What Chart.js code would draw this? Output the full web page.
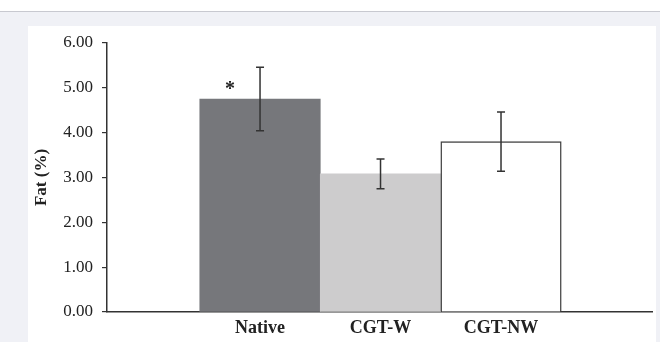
<!DOCTYPE html>
<html>
<head>
<meta charset="utf-8">
<script src="https://cdn.jsdelivr.net/npm/chart.js@4/dist/chart.umd.min.js"></script>
<style>
  html, body { margin:0; padding:0; width:660px; height:342px; overflow:hidden; background:#f0f1f6; }
  #topwhite { position:absolute; left:0; top:0; width:660px; height:11px; background:#ffffff; }
  #topline { position:absolute; left:0; top:11px; width:660px; height:1px; background:#c8c9d0; }
  #panel { position:absolute; left:28px; top:26px; width:628px; height:316px; background:#ffffff; }
  #c { position:absolute; left:0; top:0; }
</style>
</head>
<body>
<div id="topwhite"></div>
<div id="topline"></div>
<div id="panel"></div>
<canvas id="c" width="660" height="342"></canvas>
<script>
const categories = ['Native', 'CGT-W', 'CGT-NW'];
const fatMeans = [4.75, 3.08, 3.80];
const fatErrors = [0.71, 0.33, 0.66];
const yTicks = [0, 1, 2, 3, 4, 5, 6];
const significance = ['*', '', ''];

const barColors = ['#76777b', '#cdcccd', '#ffffff'];
const barBorders = [0, 0, 1.5];

const errorBarPlugin = {
  id: 'errorBars',
  afterDatasetsDraw(chart) {
    const ctx = chart.ctx;
    const xs = chart.scales.x, ys = chart.scales.y;
    ctx.save();
    ctx.strokeStyle = '#333333';
    ctx.lineWidth = 1.5;
    categories.forEach((c, i) => {
      const x = xs.getPixelForValue(i);
      const yTop = ys.getPixelForValue(fatMeans[i] + fatErrors[i]);
      const yBot = ys.getPixelForValue(fatMeans[i] - fatErrors[i]);
      const cap = 4;
      ctx.beginPath();
      ctx.moveTo(x, yTop); ctx.lineTo(x, yBot);
      ctx.moveTo(x - cap, yTop); ctx.lineTo(x + cap, yTop);
      ctx.moveTo(x - cap, yBot); ctx.lineTo(x + cap, yBot);
      ctx.stroke();
      if (significance[i]) {
        ctx.fillStyle = '#222';
        ctx.font = 'bold 20px "Liberation Serif"';
        ctx.textAlign = 'center';
        ctx.textBaseline = 'middle';
        ctx.fillText(significance[i], xs.getPixelForValue(i - 0.25), ys.getPixelForValue(fatMeans[i] + 0.2));
      }
    });
    ctx.restore();
  }
};

new Chart(document.getElementById('c'), {
  type: 'bar',
  data: {
    datasets: [{
      data: categories.map((c, i) => ({ x: i, y: fatMeans[i] })),
      backgroundColor: barColors,
      borderColor: '#444444',
      borderWidth: barBorders,
      borderSkipped: 'start',
      barPercentage: 1,
      categoryPercentage: 1
    }]
  },
  options: {
    responsive: false,
    animation: false,
    devicePixelRatio: 1,
    layout: { padding: { left: 30, right: 8, top: 43, bottom: 0 } },
    plugins: { legend: { display: false }, tooltip: { enabled: false } },
    scales: {
      x: {
        type: 'linear',
        offset: false,
        min: -1.27,
        max: 3.253,
        afterBuildTicks: (axis) => { axis.ticks = categories.map((c, i) => ({ value: i })); },
        afterFit: (axis) => { axis.height = 30; },
        grid: { display: false },
        border: { display: true, color: '#333333', width: 1.5 },
        ticks: {
          autoSkip: false,
          maxRotation: 0,
          padding: -2,
          color: '#222',
          font: { family: '"Liberation Serif"', size: 18, weight: 'bold' },
          callback: (v) => categories[v] !== undefined ? categories[v] : ''
        }
      },
      y: {
        min: 0,
        max: 6,
        afterBuildTicks: (axis) => { axis.ticks = yTicks.map(v => ({ value: v })); },
        afterFit: (axis) => { axis.width = 77; },
        grid: { display: true, drawOnChartArea: false, drawTicks: true, tickLength: 5, color: '#333333', lineWidth: 1.2 },
        border: { display: true, color: '#333333', width: 1.5 },
        title: {
          display: true,
          text: 'Fat (%)',
          color: '#222',
          font: { family: '"Liberation Serif"', size: 17, weight: 'bold' },
          padding: { top: 1, bottom: 4 }
        },
        ticks: {
          padding: 9,
          color: '#222',
          font: { family: '"Liberation Serif"', size: 17 },
          callback: (v) => Number(v).toFixed(2)
        }
      }
    }
  },
  plugins: [errorBarPlugin]
});
</script>
</body>
</html>
